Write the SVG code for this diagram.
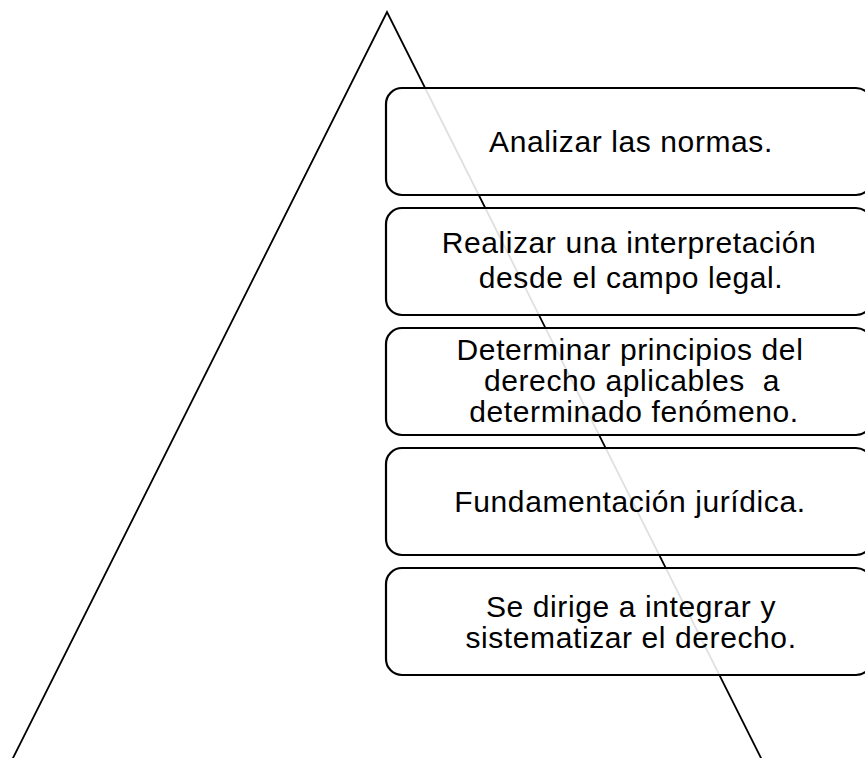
<svg xmlns="http://www.w3.org/2000/svg" width="865" height="758" viewBox="0 0 865 758">
<style>
.tri{fill:none;stroke:#000;stroke-width:1.8}
.box{fill:#fff;fill-opacity:0.88;stroke:#000;stroke-width:2.2}
.lbl{font-family:"Liberation Sans",Arial,sans-serif;font-size:30px;letter-spacing:0.6px;fill:#000;text-anchor:middle;white-space:pre}
</style>
<rect width="865" height="758" fill="#fff"/>
<g id="connectors">
<polyline class="tri" points="12,760 387,12 762,760"/>
</g>
<g id="n1">
<rect class="box" x="386" y="88" width="486" height="107" rx="16"/>
<text class="lbl" x="631" y="152">Analizar las normas.</text>
</g>
<g id="n2">
<rect class="box" x="386" y="208" width="486" height="107" rx="16"/>
<text class="lbl" x="629" y="253">Realizar una interpretación</text>
<text class="lbl" x="631" y="288">desde el campo legal.</text>
</g>
<g id="n3">
<rect class="box" x="386" y="328" width="486" height="107" rx="16"/>
<text class="lbl" x="630" y="360">Determinar principios del</text>
<text class="lbl" x="632" y="391" xml:space="preserve">derecho aplicables  a</text>
<text class="lbl" x="634" y="422">determinado fenómeno.</text>
</g>
<g id="n4">
<rect class="box" x="386" y="448" width="486" height="107" rx="16"/>
<text class="lbl" x="630" y="512">Fundamentación jurídica.</text>
</g>
<g id="n5">
<rect class="box" x="386" y="568" width="486" height="107" rx="16"/>
<text class="lbl" x="631" y="617">Se dirige a integrar y</text>
<text class="lbl" x="631" y="648">sistematizar el derecho.</text>
</g>
</svg>
